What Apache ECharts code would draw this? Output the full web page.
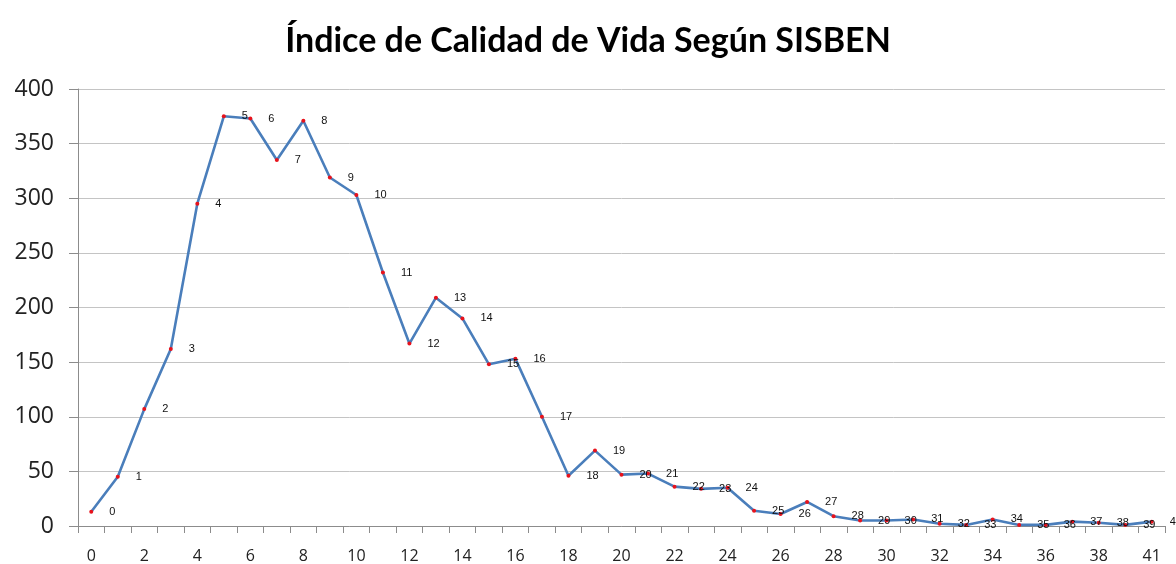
<!DOCTYPE html>
<html>
<head>
<meta charset="utf-8">
<script src="https://cdn.jsdelivr.net/npm/echarts@6/dist/echarts.min.js"></script>
<style>
html,body{margin:0;padding:0;background:#fff;}
#chart{width:1176px;height:564px;}
</style>
</head>
<body>
<div id="chart"></div>
<script>
const title = 'Índice de Calidad de Vida Según SISBEN';
const categories = ['0','1','2','3','4','5','6','7','8','9','10','11','12','13','14','15','16','17','18','19','20','21','22','23','24','25','26','27','28','29','30','31','32','33','34','35','36','37','38','39','41'];
const values = [13,45,107,162,295,375,373,335,371,319,303,232,167,209,190,148,153,100,46,69,47,48,36,34,35,14,11,22,9,5,5,6,2,1,6,1,1,4,3,1,4];
const yTicks = {min:0, max:400, interval:50};

const chart = echarts.init(document.getElementById('chart'));
chart.setOption({
  animation:false,
  backgroundColor:'#ffffff',
  title:{
    text:title, left:'center', top:19,
    textStyle:{fontFamily:'Lato', fontWeight:'bold', fontSize:34, color:'#000'}
  },
  grid:{left:78, right:11, top:89, bottom:35, containLabel:false},
  xAxis:{
    type:'category', data:categories, boundaryGap:true,
    axisLine:{lineStyle:{color:'#8c8c8c', width:1}},
    axisTick:{show:true, interval:0, length:7, lineStyle:{color:'#8c8c8c'}},
    axisLabel:{interval:1, margin:22, fontFamily:'Open Sans', fontSize:16, color:'#222'},
    splitLine:{show:false}
  },
  yAxis:{
    type:'value', min:yTicks.min, max:yTicks.max, interval:yTicks.interval,
    axisLine:{show:true, lineStyle:{color:'#8c8c8c', width:1}},
    axisTick:{show:true, length:9, lineStyle:{color:'#8c8c8c'}},
    axisLabel:{margin:24, fontFamily:'Open Sans', fontSize:23, color:'#222'},
    splitLine:{show:true, lineStyle:{color:'#c4c4c4', width:1}}
  },
  series:[{
    type:'line', data:values,
    lineStyle:{color:'#4a7ebb', width:2.6},
    symbol:'circle', symbolSize:4,
    itemStyle:{color:'#e8121b'},
    label:{
      show:true, position:'right', distance:16,
      formatter:(p)=>categories[p.dataIndex],
      fontFamily:'Liberation Sans', fontSize:11, color:'#111'
    },
    labelLayout:{hideOverlap:false},
    z:3
  }]
});
</script>
</body>
</html>
